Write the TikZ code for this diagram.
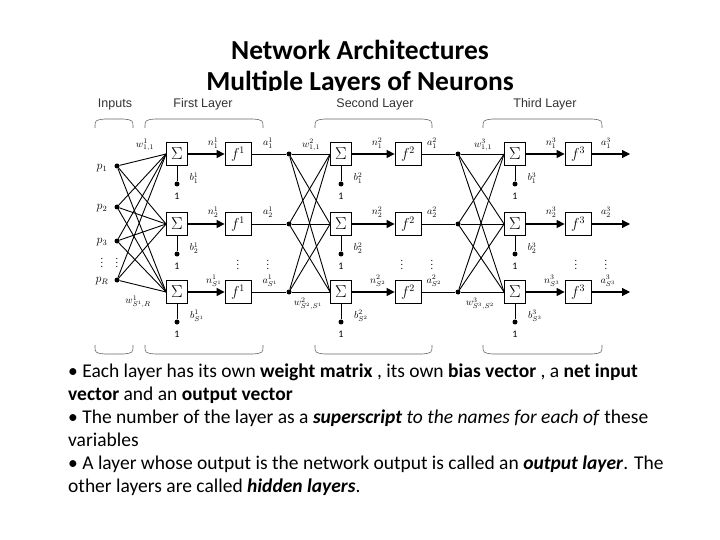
\documentclass[tikz,border=0pt]{standalone}
\usepackage[no-math]{fontspec}
\setmainfont{Carlito}
\newfontfamily\hdr{Liberation Sans}
\usetikzlibrary{arrows.meta}
\begin{document}
\begin{tikzpicture}[x=1pt,y=-1pt,
  sbox/.style={draw,thick,minimum width=21pt,minimum height=23pt,inner sep=0pt,font=\LARGE},
  fbox/.style={draw,thick,minimum width=26pt,minimum height=23pt,inner sep=0pt,font=\Large},
  dot/.style={circle,fill,inner sep=0pt,minimum size=5pt},
  wire/.style={line width=0.9pt},
  arr/.style={line width=1.1pt,-{Triangle[length=8pt,width=8pt]}},
  lbl/.style={font=\normalsize,inner sep=0pt},
  brace/.style={draw=black!60,line width=0.6pt},
  hd/.style={font=\hdr\fontsize{12.5}{14}\selectfont,text=black!80}]
\useasboundingbox (0,0) rectangle (720,540);
\node (t1) at (360,50) {\fontsize{27.5}{30}\selectfont\bfseries Network Architectures};
\node (t2) at (360,83) {\fontsize{27.5}{30}\selectfont\bfseries Multiple Layers of Neurons};
\fill[white] (90,91) rectangle (640,360);
% headers
\node[hd] (h0) at (115,104) {Inputs};
\node[hd] (h1) at (203,104) {First Layer};
\node[hd] (h2) at (375,104) {Second Layer};
\node[hd] (h3) at (545,104) {Third Layer};
% braces
\foreach \a/\b in {95/133,145/263,315/432,483/602}{
  \draw[brace] (\a,128) .. controls (\a,120) .. (\a+10,119) -- (\b-10,119) .. controls (\b,120) .. (\b,128);
  \draw[brace] (\a,345) .. controls (\a,353) .. (\a+10,354) -- (\b-10,354) .. controls (\b,353) .. (\b,345);
}
% inputs
\node[dot] (p1) at (117,166) {}; \node[dot] (p2) at (117,207) {};
\node[dot] (p3) at (117,241) {}; \node[dot] (p4) at (117,280) {};
\node[lbl,font=\large] at (102,168) {$p_1$};
\node[lbl,font=\large] at (102,208) {$p_2$};
\node[lbl,font=\large] at (102,242) {$p_3$};
\node[lbl,font=\large] at (102,281) {$p_R$};
\node[lbl] at (102,260) {$\vdots$}; \node[lbl] at (117,260) {$\vdots$};
% layers
\foreach \r/\y in {1/154,2/224,3/292}{
  \node[sbox] (s1\r) at (177,\y) {$\Sigma$};
  \node[fbox] (f1\r) at (238,\y) {$f^1$};
  \node[dot]  (j1\r) at (289,\y) {};
  \node[sbox] (s2\r) at (341,\y) {$\Sigma$};
  \node[fbox] (f2\r) at (408,\y) {$f^2$};
  \node[dot]  (j2\r) at (458,\y) {};
  \node[sbox] (s3\r) at (515,\y) {$\Sigma$};
  \node[fbox] (f3\r) at (578,\y) {$f^3$};
  \coordinate (o\r) at (630,\y);
  \draw[arr] (s1\r) -- (f1\r); \draw[arr] (s2\r) -- (f2\r); \draw[arr] (s3\r) -- (f3\r);
  \draw[wire] (f1\r) -- (j1\r); \draw[wire] (f2\r) -- (j2\r); \draw[arr] (f3\r) -- (o\r);
  \foreach \k/\x in {1/177,2/341,3/515}{
    \node[dot] (bd\k\r) at (\x,\y+30) {};
    \draw[wire] (s\k\r) -- (bd\k\r);
    \node[lbl] (one\k\r) at (\x,\y+42) {1};
  }
}
\foreach \i in {1,2,3,4}{\foreach \r in {1,2,3}{\draw[wire] (p\i) -- (s1\r.west);}}
\foreach \i in {1,2,3}{\foreach \r in {1,2,3}{
  \draw[wire] (j1\i) -- (s2\r.west); \draw[wire] (j2\i) -- (s3\r.west);}}
% labels
\foreach \k/\dx in {1/0,2/164,3/338}{
  \node[lbl] at (213+\dx,143) {$n^\k_1$};
  \node[lbl] at (213+\dx,212) {$n^\k_2$};
  \node[lbl] at (214+\dx,281) {$n^\k_{S^\k}$};
  \node[lbl] at (194+\dx,178) {$b^\k_1$};
  \node[lbl] at (194+\dx,248) {$b^\k_2$};
  \node[lbl] at (197+\dx,316) {$b^\k_{S^\k}$};
  \node[lbl] at (268+\dx,143) {$a^\k_1$};
  \node[lbl] at (268+\dx,212) {$a^\k_2$};
  \node[lbl] at (270+\dx,281) {$a^\k_{S^\k}$};
  \node[lbl] at (238+\dx,262) {$\vdots$};
  \node[lbl] at (268+\dx,262) {$\vdots$};
}
\node[lbl] at (145,145) {$w^1_{1,1}$};
\node[lbl] at (138,302) {$w^1_{S^1,R}$};
\node[lbl] at (311,145) {$w^2_{1,1}$};
\node[lbl] at (308,304) {$w^2_{S^2,S^1}$};
\node[lbl] at (483,145) {$w^3_{1,1}$};
\node[lbl] at (480,304) {$w^3_{S^3,S^2}$};
% text
\node[anchor=north west,align=left,inner sep=0pt,font=\fontsize{19.5}{23}\selectfont] (txt) at (68,364) {%
• Each layer has its own \textbf{weight matrix} , its own \textbf{bias vector} , a \textbf{net input}\\
\textbf{vector} and an \textbf{output vector}\\
• The number of the layer as a \textbf{\textit{superscript}} \textit{to the names for each of} these\\
variables\\
• A layer whose output is the network output is called an \textbf{\textit{output layer}}. The\\
other layers are called \textbf{\textit{hidden layers}}.};
\end{tikzpicture}
\end{document}
